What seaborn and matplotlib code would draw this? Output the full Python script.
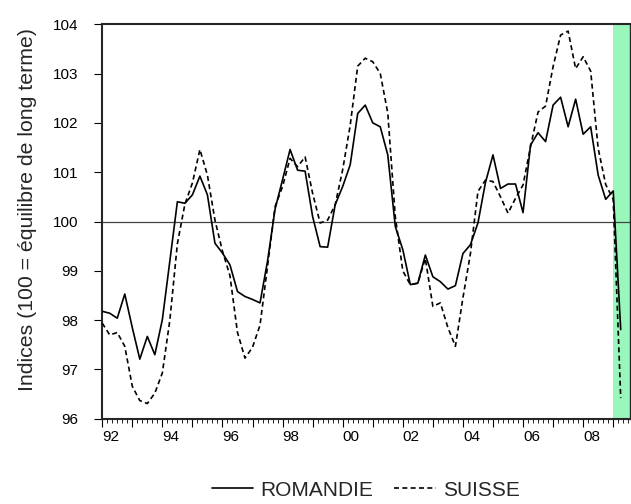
import numpy as np
import pandas as pd
import matplotlib
matplotlib.use("Agg")
import matplotlib.pyplot as plt
import seaborn as sns
from matplotlib.ticker import FixedLocator, FixedFormatter
from matplotlib.lines import Line2D

# quarterly indices, 1992Q1 - 2009Q2
quarters = pd.period_range("1992Q1", "2009Q2", freq="Q")

romandie = [98.18, 98.14, 98.04, 98.53, 97.85, 97.21, 97.67, 97.30, 98.01, 99.20,
            100.40, 100.37, 100.54, 100.92, 100.54, 99.56, 99.36, 99.12, 98.58, 98.48,
            98.42, 98.35, 99.20, 100.25, 100.85, 101.46, 101.04, 101.02, 100.10, 99.49,
            99.48, 100.34, 100.71, 101.15, 102.19, 102.36, 102.00, 101.92, 101.35, 99.90,
            99.43, 98.72, 98.75, 99.32, 98.88, 98.78, 98.63, 98.70, 99.35, 99.53,
            99.97, 100.79, 101.35, 100.67, 100.76, 100.76, 100.18, 101.55, 101.80, 101.62,
            102.36, 102.52, 101.92, 102.48, 101.77, 101.92, 100.94, 100.45, 100.62, 97.81]

suisse = [97.94, 97.70, 97.75, 97.47, 96.66, 96.37, 96.31, 96.52, 96.93, 98.00,
          99.55, 100.35, 100.78, 101.46, 100.94, 100.03, 99.40, 98.90, 97.75, 97.23,
          97.45, 97.90, 99.09, 100.30, 100.71, 101.28, 101.11, 101.31, 100.57, 99.97,
          100.03, 100.34, 101.05, 101.95, 103.15, 103.31, 103.24, 103.00, 102.20, 100.10,
          99.00, 98.72, 98.75, 99.25, 98.28, 98.35, 97.85, 97.47, 98.45, 99.35,
          100.61, 100.84, 100.81, 100.50, 100.17, 100.47, 100.74, 101.52, 102.22, 102.34,
          103.14, 103.78, 103.86, 103.10, 103.34, 103.05, 101.48, 100.75, 100.45, 96.42]

years = list(range(1992, 2010))
year_labels = [f"{y % 100:02d}" if y % 2 == 0 else "" for y in years]
yticks = [96, 97, 98, 99, 100, 101, 102, 103, 104]
forecast_start = 2009.0

t = quarters.year + (quarters.quarter - 1) / 4
df = pd.DataFrame({"t": np.tile(t, 2),
                   "valeur": romandie + suisse,
                   "serie": ["ROMANDIE"] * len(romandie) + ["SUISSE"] * len(suisse)})

sns.set_style("ticks")
plt.rcParams["font.family"] = ["Liberation Sans", "DejaVu Sans"]
plt.rcParams.update({
    "xtick.labelsize": 11, "ytick.labelsize": 11,
    "xtick.major.size": 6, "ytick.major.size": 6,
    "xtick.minor.size": 3,
    "xtick.major.pad": 2, "ytick.major.pad": 11,
    "xtick.direction": "out", "ytick.direction": "out",
    "xtick.color": "black", "ytick.color": "black",
})

fig = plt.figure(figsize=(6.31, 5.04), dpi=100)
ax = fig.add_axes([0.162, 0.169, 0.836, 0.783])

ax.axvspan(forecast_start, 2009.6, color="#99F7BB", lw=0, zorder=0)
ax.axhline(100, color="#444444", lw=0.9, zorder=1)

sns.lineplot(data=df, x="t", y="valeur", style="serie", dashes={"ROMANDIE": "", "SUISSE": (3, 2)},
             color="black", lw=1.2, ax=ax, legend=False, zorder=3)

ax.set_xlim(1992, 2009.55)
ax.set_ylim(96, 104)
ax.set_yticks(yticks)
ax.set_yticklabels([str(v) for v in yticks], fontsize=11)
ax.xaxis.set_major_locator(FixedLocator(years))
ax.xaxis.set_major_formatter(FixedFormatter(year_labels))
ax.xaxis.set_minor_locator(FixedLocator([y + m / 6 for y in years for m in range(1, 6)]))
for lab in ax.get_xticklabels():
    lab.set_ha("left")
    lab.set_fontsize(11)

for s in ["left", "bottom", "top"]:
    ax.spines[s].set_linewidth(1.5)
ax.spines["right"].set_linewidth(1.0)

ax.set_xlabel("")
ax.set_ylabel("Indices (100 = équilibre de long terme)", fontsize=15.3)
ax.yaxis.set_label_coords(-0.124, 0.53)

handles = [Line2D([], [], color="black", lw=1.2),
           Line2D([], [], color="black", lw=1.2, dashes=(3, 2))]
fig.legend(handles, ["ROMANDIE", "SUISSE"], loc="center", bbox_to_anchor=(366 / 631, 1 - 490 / 504),
           ncol=2, frameon=False, fontsize=15, handlelength=2.0, handletextpad=0.35, columnspacing=1.0)

fig.savefig("out.png", dpi=100)
